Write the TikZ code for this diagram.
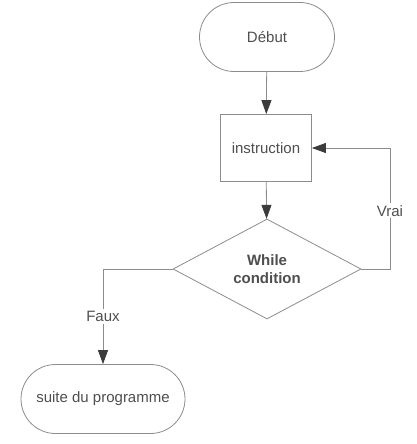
\documentclass[tikz,border=0pt]{standalone}
\usepackage{fontspec}
\setmainfont{Liberation Sans}
\usetikzlibrary{arrows.meta,shapes.geometric,shapes.misc}
\definecolor{linegray}{HTML}{8C8C8C}
\definecolor{textgray}{HTML}{4E4E4E}
\definecolor{tipgray}{HTML}{3C3C3C}

\begin{document}
\begin{tikzpicture}[
    x=1pt, y=-1pt,
    every node/.style={text=textgray, font=\fontsize{15}{18}\selectfont},
    terminal/.style={rounded rectangle, draw=linegray, line width=0.8pt, minimum height=69pt, inner sep=0pt},
    process/.style={rectangle, draw=linegray, line width=0.8pt, minimum width=91pt, minimum height=67pt, inner sep=0pt},
    decision/.style={diamond, draw=linegray, line width=0.8pt, minimum width=188pt, minimum height=100pt, inner sep=0pt, align=center, font=\fontsize{15}{18}\selectfont\bfseries},
    flow/.style={draw=linegray, line width=0.8pt, -{Triangle[length=14pt,width=10pt,color=tipgray]}},
    edgelabel/.style={fill=white, inner sep=2pt}
]
\useasboundingbox (0,0) rectangle (417,444);

% blocks
\node[terminal, minimum width=135pt] (debut) at (267,37) {Début};
\node[process] (instr) at (266,148) {instruction};
\node[decision] (cond) at (267,269) {While\\condition};
\node[terminal, minimum width=164pt] (suite) at (103,399) {suite du programme};

% bends
\coordinate (vraibend) at (390,269);
\coordinate (fauxbend) at (103,269);

% links
\draw[flow] (debut) -- (instr);
\draw[flow] (instr) -- (cond);
\draw[flow] (cond.east) -- (vraibend) |- node[edgelabel, pos=0.24] {Vrai} (instr.east);
\draw[flow] (cond.west) -- (fauxbend) -- node[edgelabel] {Faux} (suite);

\end{tikzpicture}
\end{document}
